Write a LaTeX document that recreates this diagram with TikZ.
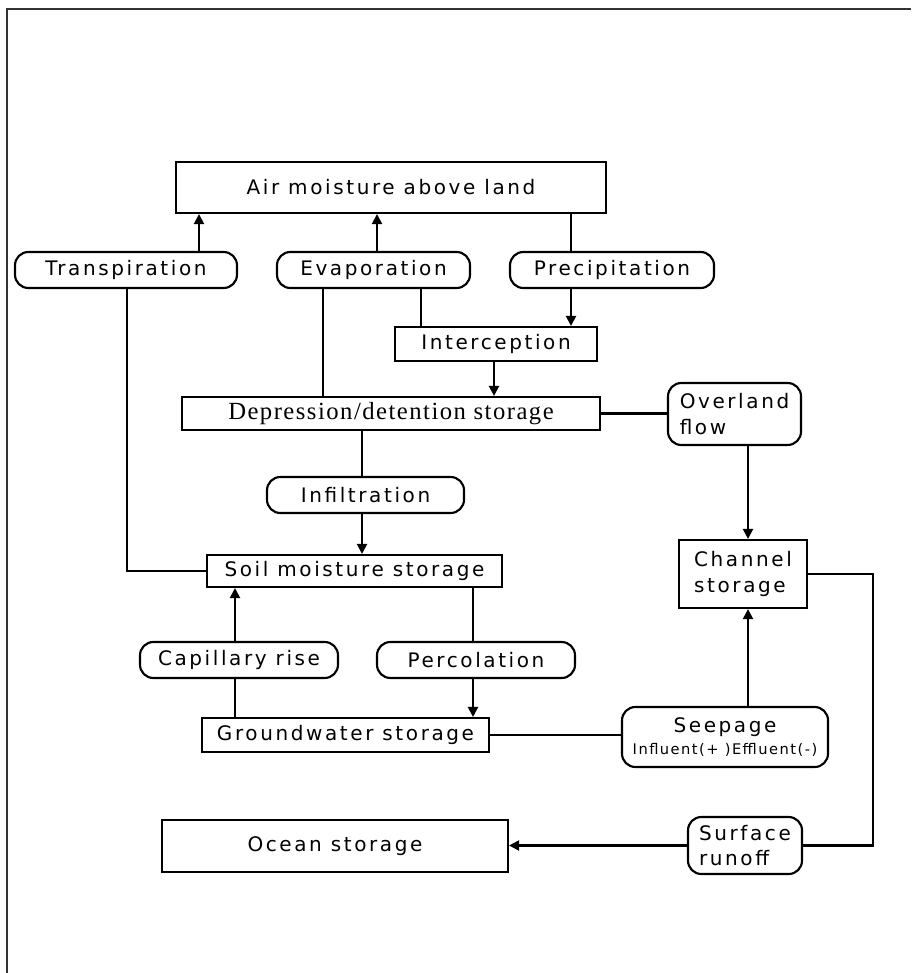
\documentclass[tikz,border=0pt]{standalone}
\usepackage{fontspec}
\usetikzlibrary{arrows.meta}
\newfontfamily\gf[LetterSpace=13]{DejaVu Sans}
\newfontfamily\gs[LetterSpace=10]{DejaVu Sans}
\newfontfamily\mf[LetterSpace=6]{Liberation Serif}
\begin{document}
\begin{tikzpicture}[x=0.75pt,y=-0.75pt,
  ln/.style={line width=1.6pt},
  arr/.style={ln,-{Triangle[length=7.5pt,width=7.5pt]}},
  bx/.style 2 args={draw,line width=1.6pt,minimum width=#1*0.75pt,minimum height=#2*0.75pt,inner sep=0pt,align=left,font=\gf\fontsize{15pt}{19pt}\selectfont},
  pl/.style 2 args={bx={#1}{#2},rounded corners=10pt},
]
\useasboundingbox (0,0) rectangle (911,973);
\draw[line width=1.8pt,black!80] (7,973) -- (7,9) -- (911,9);

% nodes
\node[bx={430}{51}] (air) at (391,187.5) {Air moisture above land};
\node[pl={222}{36}] (trans) at (126,270) {Transpiration};
\node[pl={193}{36}] (evap) at (373.5,270) {Evaporation};
\node[pl={204}{36}] (precip) at (612,270) {Precipitation};
\node[bx={202}{34}] (inter) at (496,344) {Interception};
\node[bx={418}{33},font=\mf\fontsize{18.5pt}{20pt}\selectfont] (dep) at (391,413.5) {Depression/detention storage};
\node[pl={133}{62}] (over) at (734.5,414) {Overland\\flow};
\node[pl={197}{36}] (infil) at (365.5,495) {Infiltration};
\node[bx={295}{32}] (soil) at (354.5,571) {Soil moisture storage};
\node[bx={128}{68}] (chan) at (743,574) {Channel\\storage};
\node[pl={198}{36}] (cap) at (239,660) {Capillary rise};
\node[pl={198}{36}] (perc) at (476,660) {Percolation};
\node[bx={287}{34}] (ground) at (345.5,735) {Groundwater storage};
\node[pl={206}{60},align=center] (seep) at (725,737) {Seepage\\[-3pt]{\gs\fontsize{11pt}{13pt}\selectfont Influent(+ )Effluent(-)}};
\node[pl={114}{57}] (surf) at (745,845.5) {Surface\\runoff};
\node[bx={346}{52}] (ocean) at (335,846) {Ocean storage};

% x positions
\coordinate (x127) at (127,0);
\coordinate (x199) at (199,0);
\coordinate (x235) at (235,0);
\coordinate (x323) at (323,0);
\coordinate (x362) at (362,0);
\coordinate (x377) at (377,0);
\coordinate (x421) at (421,0);
\coordinate (x473) at (473,0);
\coordinate (x494) at (494,0);
\coordinate (x571) at (571,0);
\coordinate (x748) at (748,0);
\coordinate (x873) at (873,0);

% connectors
\draw[arr] (trans.north -| x199) -- (air.south -| x199);
\draw[arr] (evap.north -| x377) -- (air.south -| x377);
\draw[ln] (air.south -| x571) -- (precip.north -| x571);
\draw[arr] (precip.south -| x571) -- (inter.north -| x571);
\draw[ln] (evap.south -| x323) -- (dep.north -| x323);
\draw[ln] (evap.south -| x421) -- (inter.north -| x421);
\draw[arr] (inter.south -| x494) -- (dep.north -| x494);
\draw[ln] (dep.east) -- (dep.east -| over.west);
\draw[arr] (over.south -| x748) -- (chan.north -| x748);
\draw[ln] (dep.south -| x362) -- (infil.north -| x362);
\draw[arr] (infil.south -| x362) -- (soil.north -| x362);
\draw[ln] (trans.south -| x127) |- (soil.west);
\draw[arr] (cap.north -| x235) -- (soil.south -| x235);
\draw[ln] (soil.south -| x473) -- (perc.north -| x473);
\draw[arr] (perc.south -| x473) -- (ground.north -| x473);
\draw[ln] (cap.south -| x235) -- (ground.north -| x235);
\draw[ln] (ground.east) -- (ground.east -| seep.west);
\draw[arr] (seep.north -| x748) -- (chan.south -| x748);
\draw[ln] (chan.east) -- (chan.east -| x873) -- (surf.east -| x873) -- (surf.east);
\draw[arr] (surf.west) -- (surf.west -| ocean.east);
\end{tikzpicture}
\end{document}
